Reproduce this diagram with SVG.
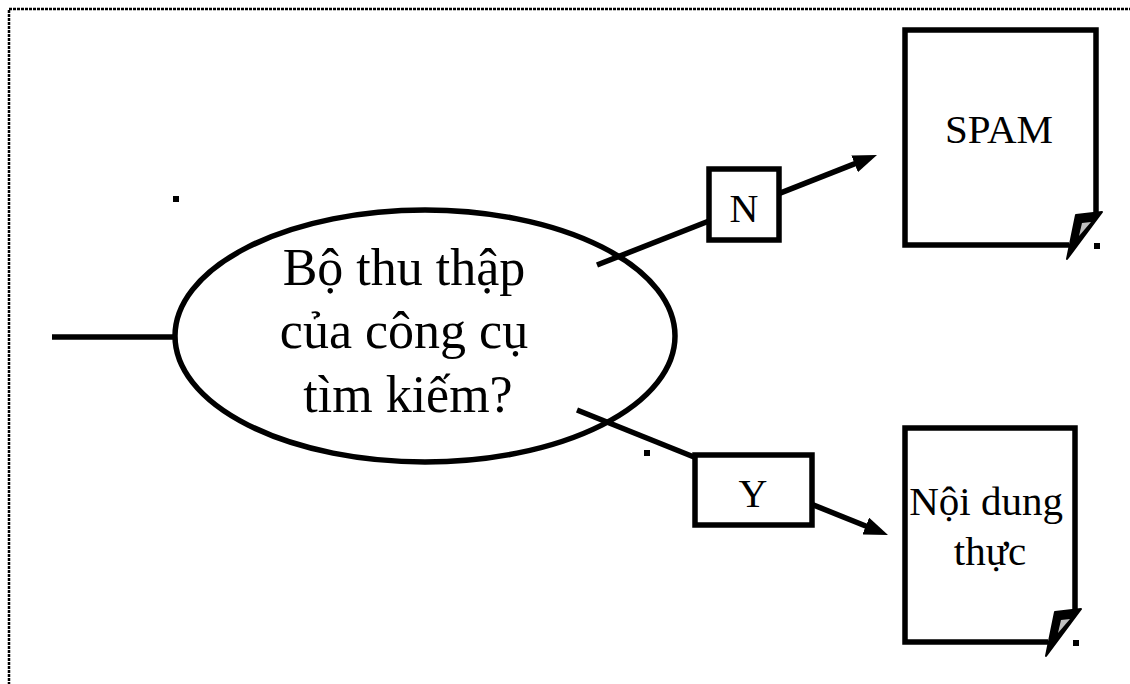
<svg xmlns="http://www.w3.org/2000/svg" width="1130" height="684" viewBox="0 0 1130 684">
<style>
.t{font-family:"Liberation Serif","Times New Roman",serif;fill:#000}
.big{font-size:52px}
.mid{font-size:41px}
.lab{font-size:40px}
.sh{fill:#fff;stroke:#000;stroke-width:5.5}
.ln{fill:none;stroke:#000;stroke-width:5.5}
.fold{fill:#000;stroke:#000;stroke-width:2;stroke-linejoin:round}
.gray{fill:#c0c0c0}
.dot{fill:#000}
</style>
<defs>
<marker id="ah" markerUnits="userSpaceOnUse" markerWidth="24" markerHeight="18" refX="12" refY="9" orient="auto">
<path d="M0,0 L24,9 L0,18 Z" fill="#000"/>
</marker>
</defs>
<rect x="0" y="0" width="1130" height="684" fill="#fff"/>
<rect x="9" y="9" width="1140" height="700" fill="none" stroke="#000" stroke-width="2.5" stroke-dasharray="3,1"/>

<g id="input">
<line class="ln" x1="52" y1="337" x2="176" y2="337"/>
</g>

<g id="collector">
<ellipse class="sh" cx="425" cy="336" rx="250" ry="126"/>
<text class="t big" x="404" y="285" text-anchor="middle">Bộ thu thập</text>
<text class="t big" x="404" y="348" text-anchor="middle">của công cụ</text>
<text class="t big" x="408" y="412" text-anchor="middle">tìm kiếm?</text>
</g>

<g id="connectors">
<line class="ln" x1="597" y1="265" x2="865.8" y2="159.4" marker-end="url(#ah)"/>
<line class="ln" x1="577" y1="410" x2="876.9" y2="530.5" marker-end="url(#ah)"/>
</g>

<g id="label-n">
<rect class="sh" x="709" y="169" width="70" height="71"/>
<text class="t lab" x="744" y="222" text-anchor="middle">N</text>
</g>

<g id="label-y">
<rect class="sh" x="695" y="455" width="117" height="70"/>
<text class="t lab" x="753" y="507" text-anchor="middle">Y</text>
</g>

<g id="spam">
<path class="sh" d="M1069,245 H905 V30 H1096 V216"/>
<polygon class="fold" points="1067,259 1076,215 1102,212"/>
<polygon class="gray" points="1079,236 1082,223 1091,222"/>
<rect class="dot" x="1094" y="243" width="6" height="6"/>
<text class="t mid" x="999" y="143" text-anchor="middle">SPAM</text>
</g>

<g id="real-content">
<path class="sh" d="M1048,642 H905 V428 H1075 V613"/>
<polygon class="fold" points="1046,656 1055,612 1081,609"/>
<polygon class="gray" points="1058,633 1061,620 1070,619"/>
<rect class="dot" x="1073" y="640" width="6" height="6"/>
<text class="t mid" x="986" y="515" text-anchor="middle">Nội dung</text>
<text class="t mid" x="990" y="565" text-anchor="middle">thực</text>
</g>

<g id="dots">
<rect class="dot" x="173" y="196" width="6" height="6"/>
<rect class="dot" x="644" y="450" width="6" height="6"/>
</g>
</svg>
